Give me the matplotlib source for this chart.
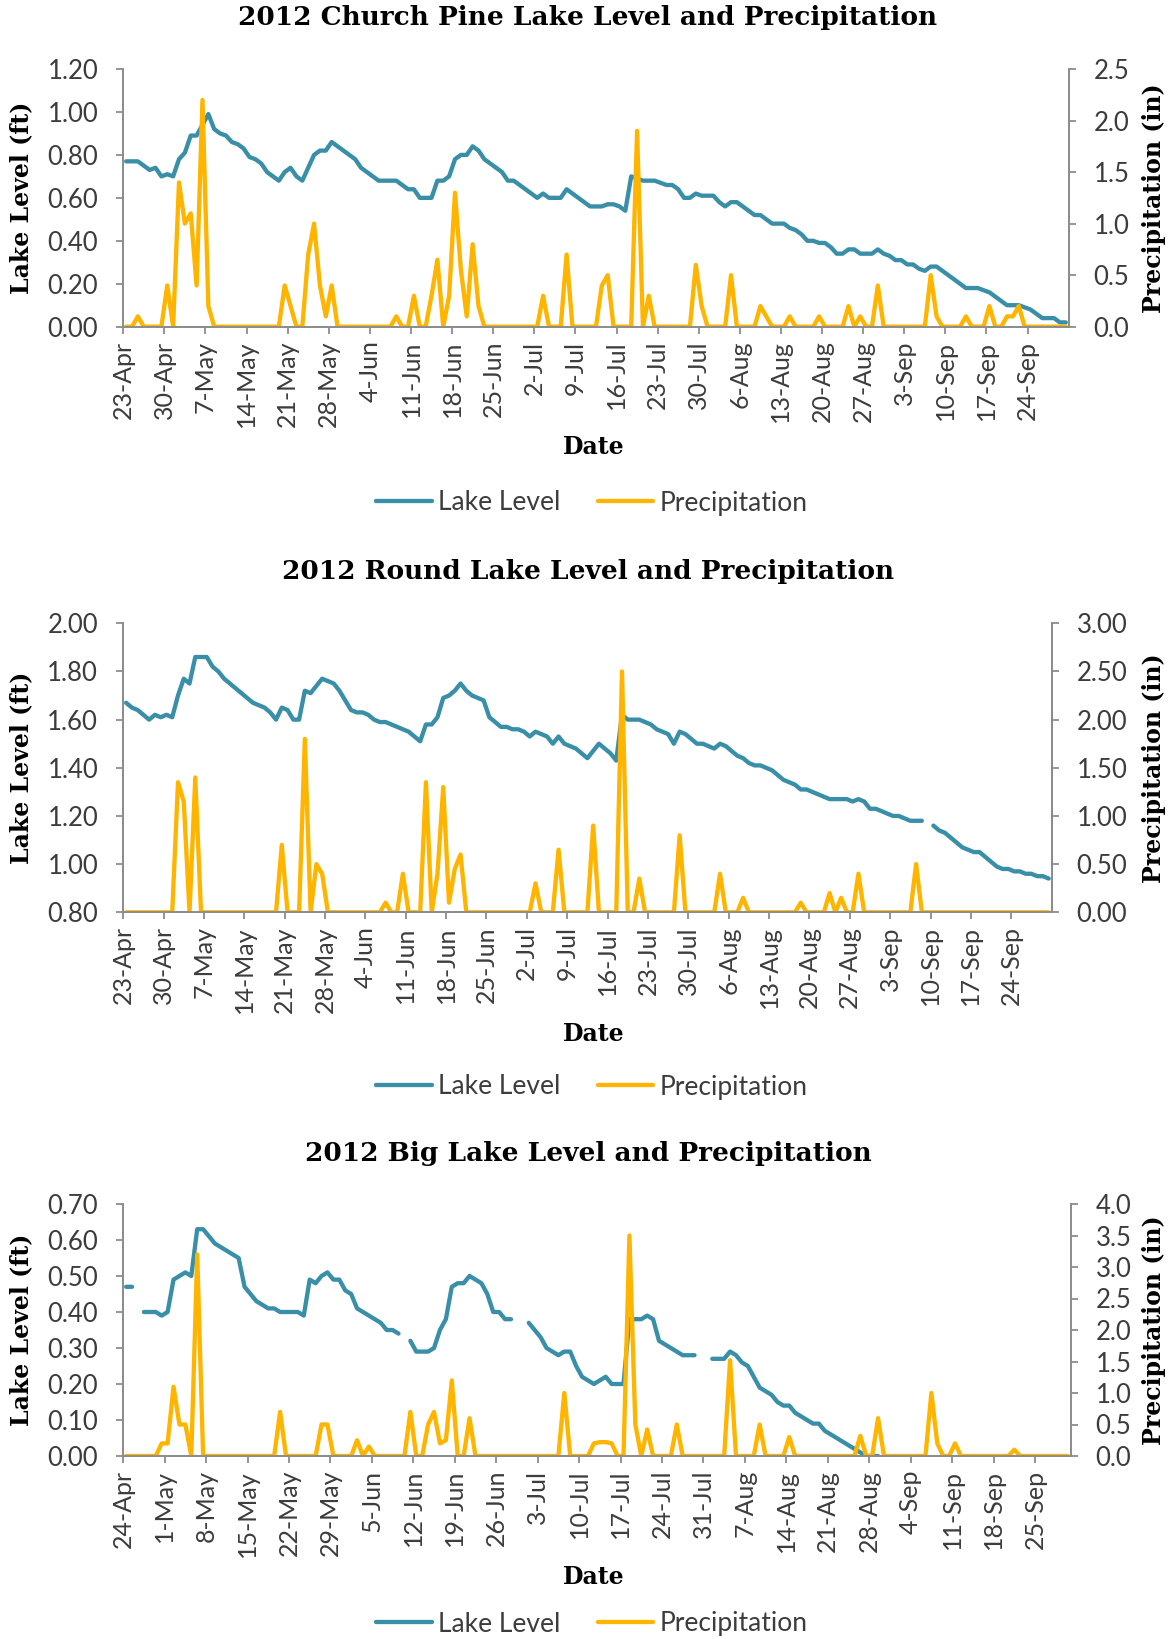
import numpy as np
import pandas as pd
import matplotlib
matplotlib.use("Agg")
import matplotlib.pyplot as plt

W, H = 1173, 1639
BLUE = "#3A8FA8"
GOLD = "#FFB500"
SPINE = "#8C8C8C"
INK = "#3C3C3C"
NUM_FONT = dict(family="Lato", weight="normal")
HEAD_FONT = dict(family="DejaVu Serif", weight="bold")

nan = np.nan

# Church Pine Lake: daily lake level (ft), 23-Apr .. 30-Sep 2012
church_start = "2012-04-23"
church_level = [
    0.77, 0.77, 0.77, 0.75, 0.73, 0.74, 0.70, 0.71, 0.70, 0.78,
    0.81, 0.89, 0.89, 0.94, 0.99, 0.92, 0.90, 0.89, 0.86, 0.85,
    0.83, 0.79, 0.78, 0.76, 0.72, 0.70, 0.68, 0.72, 0.74, 0.70,
    0.68, 0.74, 0.80, 0.82, 0.82, 0.86, 0.84, 0.82, 0.80, 0.78,
    0.74, 0.72, 0.70, 0.68, 0.68, 0.68, 0.68, 0.66, 0.64, 0.64,
    0.60, 0.60, 0.60, 0.68, 0.68, 0.70, 0.78, 0.80, 0.80, 0.84,
    0.82, 0.78, 0.76, 0.74, 0.72, 0.68, 0.68, 0.66, 0.64, 0.62,
    0.60, 0.62, 0.60, 0.60, 0.60, 0.64, 0.62, 0.60, 0.58, 0.56,
    0.56, 0.56, 0.57, 0.57, 0.56, 0.54, 0.70, 0.69, 0.68, 0.68,
    0.68, 0.67, 0.66, 0.66, 0.64, 0.60, 0.60, 0.62, 0.61, 0.61,
    0.61, 0.58, 0.56, 0.58, 0.58, 0.56, 0.54, 0.52, 0.52, 0.50,
    0.48, 0.48, 0.48, 0.46, 0.45, 0.43, 0.40, 0.40, 0.39, 0.39,
    0.37, 0.34, 0.34, 0.36, 0.36, 0.34, 0.34, 0.34, 0.36, 0.34,
    0.33, 0.31, 0.31, 0.29, 0.29, 0.27, 0.26, 0.28, 0.28, 0.26,
    0.24, 0.22, 0.20, 0.18, 0.18, 0.18, 0.17, 0.16, 0.14, 0.12,
    0.10, 0.10, 0.10, 0.09, 0.08, 0.06, 0.04, 0.04, 0.04, 0.02,
    0.02,
]
# rainy days (offset from start) and precipitation (in); other days are 0
church_rain_day = [2, 7, 9, 10, 11, 12, 13, 14, 27, 28, 31, 32, 33, 34, 35,
                   46, 49, 52, 53, 55, 56, 57, 58, 59, 60, 71, 75, 81, 82,
                   87, 89, 97, 98, 103, 108, 109, 113, 118, 123, 125, 128,
                   137, 138, 143, 147, 150, 151, 152]
church_rain_in = [0.1, 0.4, 1.4, 1.0, 1.1, 0.4, 2.2, 0.2, 0.4, 0.2, 0.7, 1.0,
                  0.4, 0.1, 0.4, 0.1, 0.3, 0.3, 0.65, 0.3, 1.3, 0.55, 0.1,
                  0.8, 0.2, 0.3, 0.7, 0.4, 0.5, 1.9, 0.3, 0.6, 0.2, 0.5, 0.2,
                  0.1, 0.1, 0.1, 0.2, 0.1, 0.4, 0.5, 0.1, 0.1, 0.2, 0.1, 0.1,
                  0.2]

# Round Lake: 23-Apr .. 30-Sep 2012
round_start = "2012-04-23"
round_level = [
    1.67, 1.65, 1.64, 1.62, 1.60, 1.62, 1.61, 1.62, 1.61, 1.70,
    1.77, 1.75, 1.86, 1.86, 1.86, 1.82, 1.80, 1.77, 1.75, 1.73,
    1.71, 1.69, 1.67, 1.66, 1.65, 1.63, 1.60, 1.65, 1.64, 1.60,
    1.60, 1.72, 1.71, 1.74, 1.77, 1.76, 1.75, 1.72, 1.68, 1.64,
    1.63, 1.63, 1.62, 1.60, 1.59, 1.59, 1.58, 1.57, 1.56, 1.55,
    1.53, 1.51, 1.58, 1.58, 1.61, 1.69, 1.70, 1.72, 1.75, 1.72,
    1.70, 1.69, 1.68, 1.61, 1.59, 1.57, 1.57, 1.56, 1.56, 1.55,
    1.53, 1.55, 1.54, 1.53, 1.50, 1.53, 1.50, 1.49, 1.48, 1.46,
    1.44, 1.47, 1.50, 1.48, 1.46, 1.43, 1.62, 1.60, 1.60, 1.60,
    1.59, 1.58, 1.56, 1.55, 1.54, 1.50, 1.55, 1.54, 1.52, 1.50,
    1.50, 1.49, 1.48, 1.50, 1.49, 1.47, 1.45, 1.44, 1.42, 1.41,
    1.41, 1.40, 1.39, 1.37, 1.35, 1.34, 1.33, 1.31, 1.31, 1.30,
    1.29, 1.28, 1.27, 1.27, 1.27, 1.27, 1.26, 1.27, 1.26, 1.23,
    1.23, 1.22, 1.21, 1.20, 1.20, 1.19, 1.18, 1.18, 1.18, nan,
    1.16, 1.14, 1.13, 1.11, 1.09, 1.07, 1.06, 1.05, 1.05, 1.03,
    1.01, 0.99, 0.98, 0.98, 0.97, 0.97, 0.96, 0.96, 0.95, 0.95,
    0.94,
]
round_rain_day = [9, 10, 12, 27, 31, 33, 34, 45, 48, 52, 54, 55, 56, 57, 58,
                  71, 75, 81, 86, 89, 96, 103, 107, 117, 122, 124, 127, 137]
round_rain_in = [1.35, 1.15, 1.4, 0.7, 1.8, 0.5, 0.4, 0.1, 0.4, 1.35, 0.4,
                 1.3, 0.1, 0.45, 0.6, 0.3, 0.65, 0.9, 2.5, 0.35, 0.8, 0.4,
                 0.15, 0.1, 0.2, 0.15, 0.4, 0.5]

# Big Lake: 24-Apr .. 30-Sep 2012 (gaps are days without a reading)
big_start = "2012-04-24"
big_level = [
    0.47, 0.47, nan, 0.40, 0.40, 0.40, 0.39, 0.40, 0.49, 0.50,
    0.51, 0.50, 0.63, 0.63, 0.61, 0.59, 0.58, 0.57, 0.56, 0.55,
    0.47, 0.45, 0.43, 0.42, 0.41, 0.41, 0.40, 0.40, 0.40, 0.40,
    0.39, 0.49, 0.48, 0.50, 0.51, 0.49, 0.49, 0.46, 0.45, 0.41,
    0.40, 0.39, 0.38, 0.37, 0.35, 0.35, 0.34, nan, 0.32, 0.29,
    0.29, 0.29, 0.30, 0.35, 0.38, 0.47, 0.48, 0.48, 0.50, 0.49,
    0.48, 0.45, 0.40, 0.40, 0.38, 0.38, nan, nan, 0.37, 0.35,
    0.33, 0.30, 0.29, 0.28, 0.29, 0.29, 0.25, 0.22, 0.21, 0.20,
    0.21, 0.22, 0.20, 0.20, 0.20, 0.38, 0.38, 0.38, 0.39, 0.38,
    0.32, 0.31, 0.30, 0.29, 0.28, 0.28, 0.28, nan, nan, 0.27,
    0.27, 0.27, 0.29, 0.28, 0.26, 0.25, 0.22, 0.19, 0.18, 0.17,
    0.15, 0.14, 0.14, 0.12, 0.11, 0.10, 0.09, 0.09, 0.07, 0.06,
    0.05, 0.04, 0.03, 0.02, 0.01, 0.00, 0.00, 0.00,
] + [nan] * 32
big_rain_day = [6, 7, 8, 9, 10, 12, 26, 33, 34, 39, 41, 48, 51, 52, 53, 54,
                55, 58, 74, 79, 80, 81, 82, 85, 86, 88, 93, 102, 107, 112,
                124, 127, 136, 137, 140, 150]
big_rain_in = [0.2, 0.2, 1.1, 0.5, 0.5, 3.2, 0.7, 0.5, 0.5, 0.25, 0.15, 0.7,
               0.5, 0.7, 0.2, 0.25, 1.2, 0.6, 1.0, 0.2, 0.22, 0.22, 0.2, 3.5,
               0.5, 0.42, 0.5, 1.52, 0.5, 0.3, 0.32, 0.6, 1.0, 0.2, 0.2, 0.1]


def px_rect(left, top, right, bottom):
    return [left / W, 1 - bottom / H, (right - left) / W, (bottom - top) / H]


def style_axis(ax):
    for side in ("left", "right", "bottom"):
        ax.spines[side].set_color(SPINE)
        ax.spines[side].set_linewidth(1.3)
    ax.spines["top"].set_visible(False)
    ax.tick_params(color=SPINE, width=1.3, length=5)
    ax.tick_params(labelcolor=INK)


def lake_chart(rect, start, level, rain_day, rain_in, left_ticks, left_fmt,
               right_ticks, right_fmt, title, title_y, date_y, legend_y):
    n = len(level)
    dates = pd.date_range(start, periods=n, freq="D")
    x = np.arange(n) + 0.5
    rain = np.zeros(n)
    rain[rain_day] = rain_in

    ax = fig.add_axes(px_rect(*rect))
    ax2 = ax.twinx()
    ln1, = ax.plot(x, level, color=BLUE, lw=3.1, solid_capstyle="round",
                   solid_joinstyle="round", label="Lake Level")
    ln2, = ax2.plot(x, rain, color=GOLD, lw=3.1, solid_capstyle="round",
                    solid_joinstyle="round", label="Precipitation")

    ax.set_xlim(0, n)
    ax.set_ylim(left_ticks[0], left_ticks[-1])
    ax2.set_ylim(right_ticks[0], right_ticks[-1])
    ax.set_yticks(left_ticks)
    ax.set_yticklabels([left_fmt % v for v in left_ticks], **NUM_FONT,
                       fontsize=18.5)
    ax2.set_yticks(right_ticks)
    ax2.set_yticklabels([right_fmt % v for v in right_ticks], **NUM_FONT,
                        fontsize=18.5)
    week = np.arange(0, n - 1, 7)
    ax.set_xticks(week)
    ax.set_xticklabels([f"{dates[i].day}-{dates[i].strftime('%b')}" for i in week],
                       rotation=90, **NUM_FONT, fontsize=18)
    for a in (ax, ax2):
        style_axis(a)
    ax.tick_params(axis="y", pad=13)
    ax2.tick_params(axis="y", pad=13)
    ax.tick_params(axis="x", pad=5)

    left, top, right, bottom = rect
    mid_y = 1 - (top + bottom) / 2 / H
    fig.text(588 / W, 1 - title_y / H, title, ha="center", va="center",
             fontsize=19, color="black", **HEAD_FONT)
    fig.text(21 / W, mid_y, "Lake Level (ft)", rotation=90, ha="center",
             va="center", fontsize=17, color="black", **HEAD_FONT)
    fig.text(1154 / W, mid_y, "Precipitation (in)", rotation=90,
             ha="center", va="center", fontsize=17, color="black", **HEAD_FONT)
    fig.text(594 / W, 1 - date_y / H, "Date", ha="center", va="center",
             fontsize=17, color="black", **HEAD_FONT)
    fig.legend([ln1, ln2], ["Lake Level", "Precipitation"], loc="center",
               bbox_to_anchor=(592 / W, 1 - legend_y / H), ncol=2,
               frameon=False, handlelength=2.1, handletextpad=0.25,
               columnspacing=1.4, prop=dict(family="Lato", weight="normal",
                                             size=19),
               labelcolor=INK)


fig = plt.figure(figsize=(W / 100, H / 100), dpi=100)

lake_chart((123.2, 69, 1068.7, 326.7), church_start, church_level,
           church_rain_day, church_rain_in,
           np.round(np.arange(0, 1.21, 0.2), 2), "%.2f",
           np.round(np.arange(0, 2.51, 0.5), 2), "%.1f",
           "2012 Church Pine Lake Level and Precipitation", 18, 447, 503)

lake_chart((123.2, 623.3, 1051.6, 912.3), round_start, round_level,
           round_rain_day, round_rain_in,
           np.round(np.arange(0.8, 2.01, 0.2), 2), "%.2f",
           np.round(np.arange(0, 3.01, 0.5), 2), "%.2f",
           "2012 Round Lake Level and Precipitation", 571, 1034, 1087)

lake_chart((123.2, 1204, 1070.5, 1456), big_start, big_level,
           big_rain_day, big_rain_in,
           np.round(np.arange(0, 0.71, 0.1), 2), "%.2f",
           np.round(np.arange(0, 4.01, 0.5), 2), "%.1f",
           "2012 Big Lake Level and Precipitation", 1153, 1577, 1624)

fig.savefig("out.png", dpi=100)
